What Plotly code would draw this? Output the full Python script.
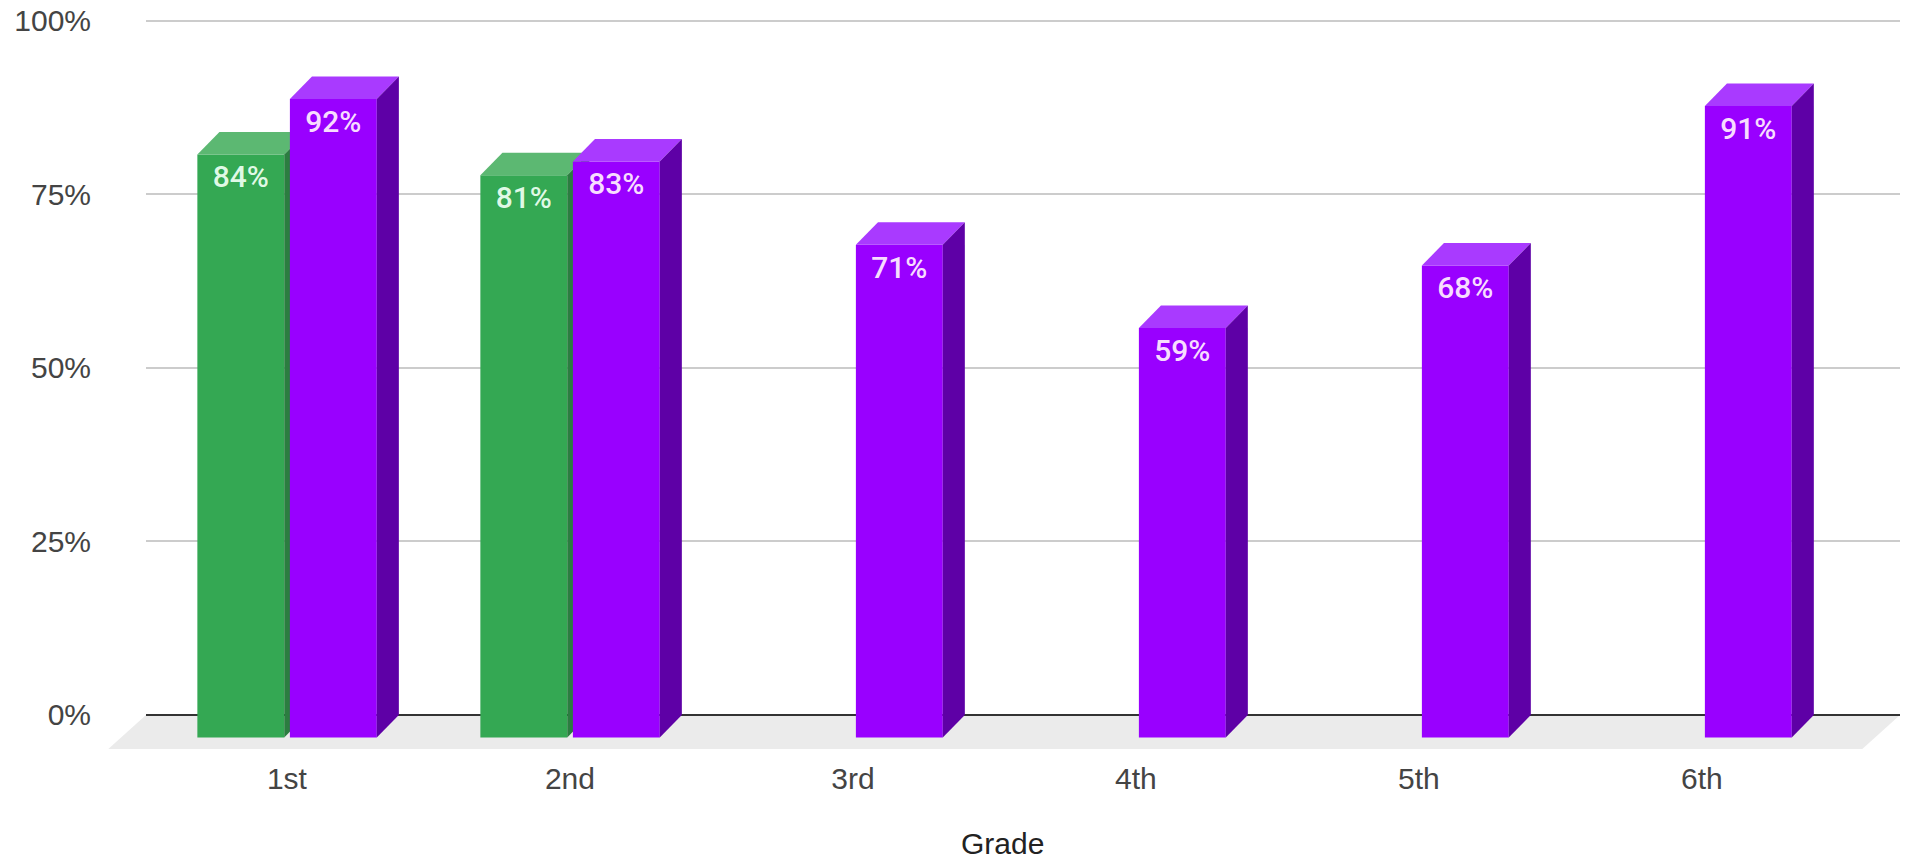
import plotly.graph_objects as go

# ---- data ----
grades = ["1st", "2nd", "3rd", "4th", "5th", "6th"]
series_a = [84, 81, None, None, None, None]   # green series
series_b = [92, 83, 71, 59, 68, 91]           # purple series
y_ticks = [0, 25, 50, 75, 100]
y_tick_labels = ["0%", "25%", "50%", "75%", "100%"]

# ---- geometry / styling ----
W, H = 1910, 866
X_RANGE = [-0.498, 5.70]
Y_RANGE = [-4.9, 101.0]
BAR_W = 0.307
OFFSETS = [-0.163, 0.164]
DX = 0.078      # depth in x units
DY = 3.24       # depth in y units
LABEL_DROP = 3.65

STYLES = [
    dict(front="#34a853", top="#5cb872", side="#2b7d40", text="rgba(235,255,240,0.95)"),
    dict(front="#9900ff", top="#a93aff", side="#5e00a6", text="rgba(255,235,255,0.95)"),
]

FONT = "Liberation Sans, Arial, sans-serif"
LABEL_FONT = "Roboto, Open Sans, sans-serif"

fig = go.Figure()

series_list = [series_a, series_b]
for k, (vals, off, st) in enumerate(zip(series_list, OFFSETS, STYLES)):
    xa = "x" if k == 0 else "x2"
    ya = "y" if k == 0 else "y2"
    xs = [i + off for i, v in enumerate(vals) if v is not None]
    vs = [v for v in vals if v is not None]

    # front faces
    fig.add_trace(go.Bar(
        x=xs, y=vs, base=[-DY] * len(vs), width=BAR_W,
        marker=dict(color=st["front"], line=dict(width=0)),
        xaxis=xa, yaxis=ya, showlegend=False, hoverinfo="skip",
    ))

    # top and side faces
    for x, v in zip(xs, vs):
        x0, x1 = x - BAR_W / 2, x + BAR_W / 2
        fig.add_trace(go.Scatter(
            x=[x0, x0 + DX, x1 + DX, x1, x0],
            y=[v - DY, v, v, v - DY, v - DY],
            fill="toself", fillcolor=st["top"], mode="lines",
            line=dict(width=0, color=st["top"]),
            xaxis=xa, yaxis=ya, showlegend=False, hoverinfo="skip",
        ))
        fig.add_trace(go.Scatter(
            x=[x1, x1 + DX, x1 + DX, x1, x1],
            y=[v - DY, v, 0, -DY, v - DY],
            fill="toself", fillcolor=st["side"], mode="lines",
            line=dict(width=0, color=st["side"]),
            xaxis=xa, yaxis=ya, showlegend=False, hoverinfo="skip",
        ))

    # value labels
    fig.add_trace(go.Scatter(
        x=xs, y=[v - DY - LABEL_DROP for v in vs],
        text=[f"{v}%" for v in vs], mode="text",
        textfont=dict(family=LABEL_FONT, size=30, color=st["text"], weight=500),
        textposition="middle center", cliponaxis=False,
        xaxis=xa, yaxis=ya, showlegend=False, hoverinfo="skip",
    ))

# floor plane (paper coordinates derived from the axis ranges)
def py(yv):
    return (yv - Y_RANGE[0]) / (Y_RANGE[1] - Y_RANGE[0])

floor_top = py(0)
floor_bot = py(Y_RANGE[0])
slant = 0.0215
fig.add_shape(
    type="path", xref="paper", yref="paper", layer="below",
    path=f"M 0 {floor_top} L 1 {floor_top} L {1 - slant} {floor_bot} L {-slant} {floor_bot} Z",
    fillcolor="#ebebeb", line=dict(width=0),
)

axis_common = dict(range=X_RANGE, showgrid=False, zeroline=False, showline=False,
                   automargin=False)
fig.update_layout(
    width=W, height=H,
    margin=dict(l=146, r=10, t=14, b=117),
    paper_bgcolor="white", plot_bgcolor="rgba(0,0,0,0)",
    barmode="overlay",
    xaxis=dict(
        **axis_common, tickvals=list(range(len(grades))), ticktext=grades,
        ticks="", tickfont=dict(family=FONT, size=30, color="#444444"),
        ticklabelstandoff=9,
    ),
    yaxis=dict(
        range=Y_RANGE, tickvals=y_ticks, ticktext=y_tick_labels,
        showgrid=True, gridcolor="#cccccc", gridwidth=2,
        zeroline=True, zerolinecolor="#333333", zerolinewidth=2,
        showline=False, ticks="", automargin=False,
        tickfont=dict(family=FONT, size=30, color="#444444"),
        ticklabelstandoff=54,
    ),
    xaxis2=dict(**axis_common, overlaying="x", visible=False),
    yaxis2=dict(range=Y_RANGE, overlaying="y", visible=False,
                showgrid=False, zeroline=False, automargin=False),
    annotations=[dict(
        text="Grade", xref="x", yref="paper", x=2.53, y=-0.129,
        showarrow=False, font=dict(family=FONT, size=30, color="#222222"),
        xanchor="center", yanchor="middle", borderpad=0,
    )],
)

fig.write_html("out.html")
